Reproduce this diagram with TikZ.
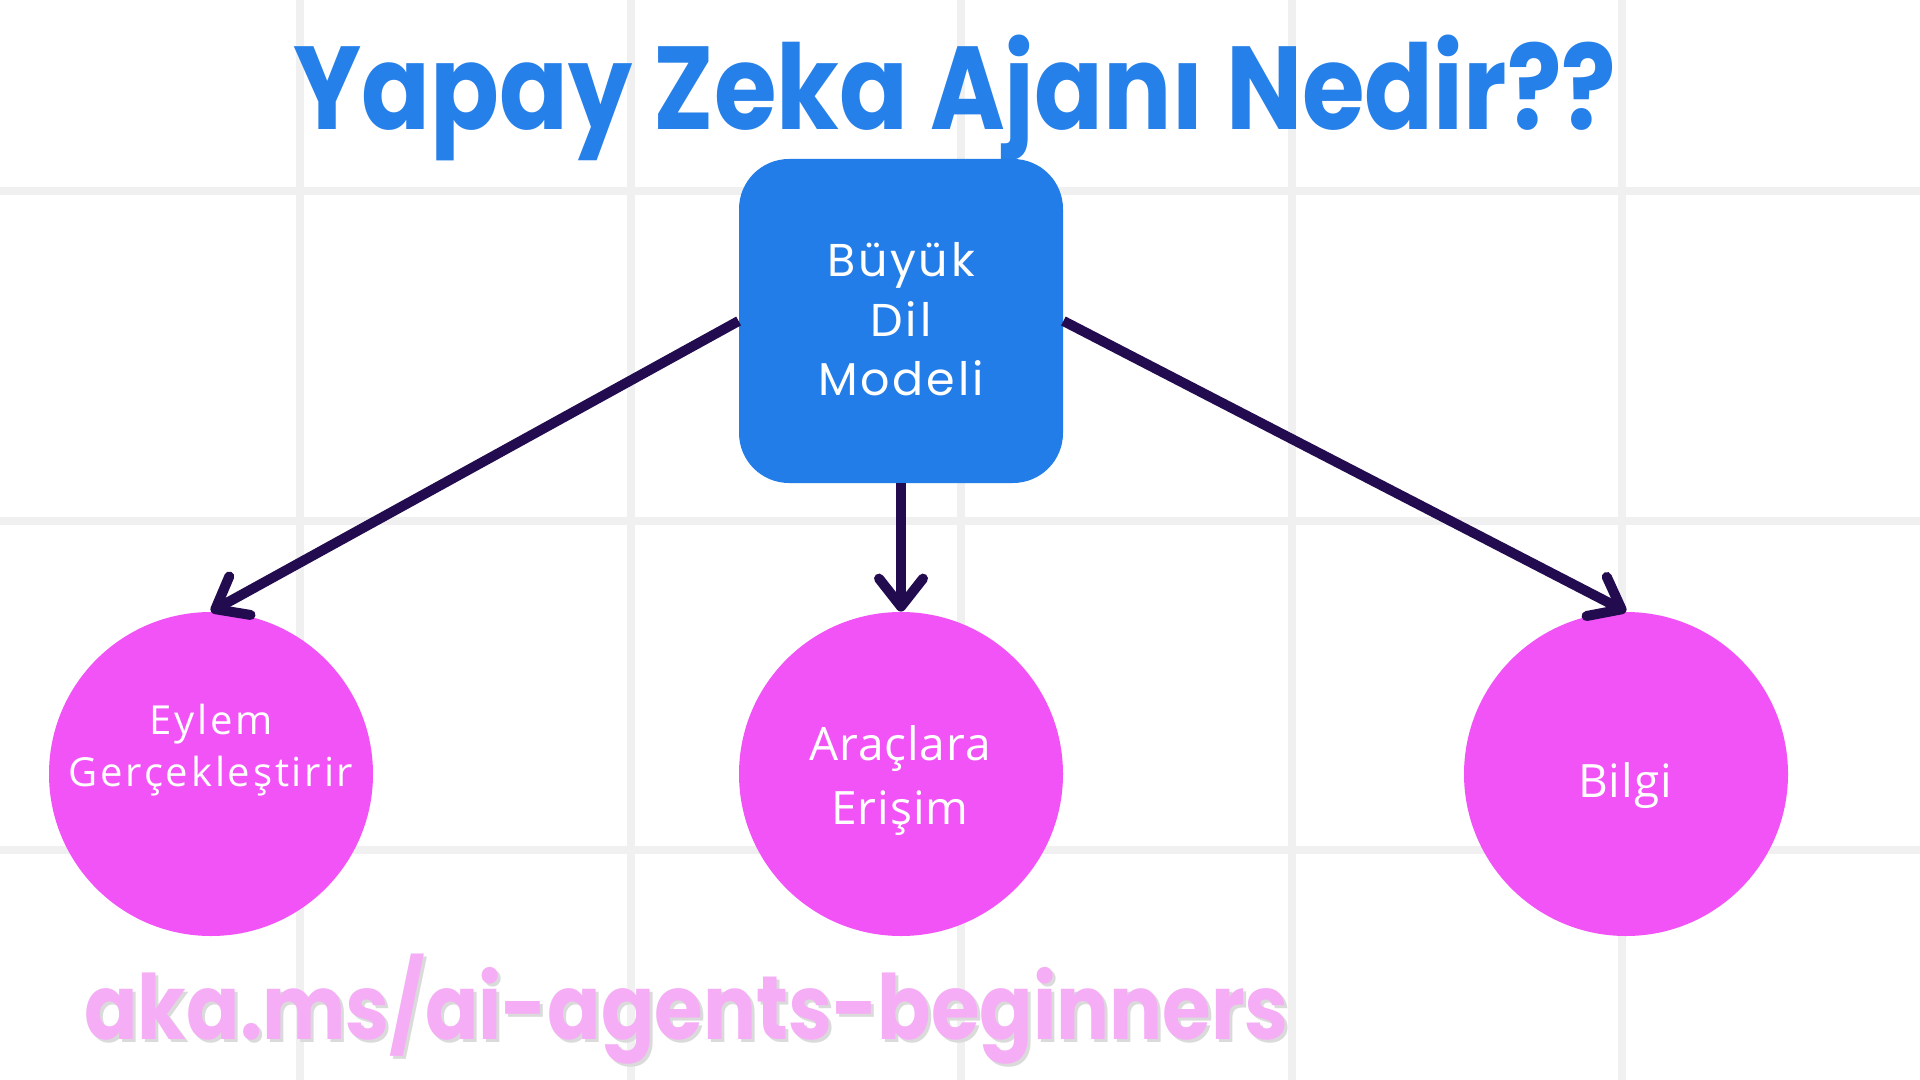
\documentclass[tikz,border=0pt]{standalone}
\usepackage{fontspec}
\setmainfont{Lato}
\newfontfamily\poptitle[FakeStretch=0.86]{Poppins}
\newfontfamily\popurl[FakeStretch=0.875]{Poppins}
\newfontfamily\popspaced[LetterSpace=6]{Poppins}
\newfontfamily\circfont[LetterSpace=2]{Open Sans}
\newfontfamily\circfontwide[LetterSpace=7]{Open Sans}
\usetikzlibrary{arrows.meta}
\definecolor{gridgray}{HTML}{F0F0F0}
\definecolor{boxblue}{HTML}{237DE8}
\definecolor{titleblue}{HTML}{2680E9}
\definecolor{circpink}{HTML}{F153F6}
\definecolor{arrowpurple}{HTML}{230B4F}
\definecolor{urlpink}{HTML}{F5AEF5}
\definecolor{urlshadow}{HTML}{DADADA}
\tikzset{
  gridline/.style={draw=gridgray, line width=4pt},
  llmbox/.style={fill=boxblue, rounded corners=25pt, minimum width=162pt, minimum height=162pt, inner sep=0pt},
  pinkcircle/.style={circle, fill=circpink, minimum size=162pt, inner sep=0pt},
  conn/.style={draw=arrowpurple, line width=5pt, -{Straight Barb[length=14pt,width=22pt,round]}},
  boxtext/.style={text=white, font=\popspaced\fontsize{23}{28}\selectfont, inner sep=0pt, anchor=base},
  circtext/.style={text=white, font=\circfont\fontsize{23}{28}\selectfont, inner sep=0pt, anchor=base},
  smallcirctext/.style={text=white, font=\circfontwide\fontsize{20}{24}\selectfont, inner sep=0pt, anchor=base},
  titletext/.style={text=titleblue, font=\poptitle\bfseries\fontsize{59}{70}\selectfont, inner sep=0pt, anchor=base},
  urltext/.style={font=\popurl\bfseries\fontsize{45}{54}\selectfont, inner sep=0pt, anchor=base west},
}
\begin{document}
\begin{tikzpicture}[x=0.5pt,y=-0.5pt]
\useasboundingbox (0,0) rectangle (1920,1080);
\fill[white] (0,0) rectangle (1920,1080);
\foreach \gx in {300,631,961,1292,1622} \draw[gridline] (\gx,0) -- (\gx,1080);
\foreach \gy in {191,521,850} \draw[gridline] (0,\gy) -- (1920,\gy);

\node[titletext] (title) at (955,130) {Yapay Zeka Ajanı Nedir??};

\node[llmbox] (llm) at (901,321) {};
\node[pinkcircle] (act) at (211,774) {};
\node[pinkcircle] (tools) at (901,774) {};
\node[pinkcircle] (know) at (1626,774) {};

\draw[conn] (llm.west) -- (act.north);
\draw[conn] (llm.south) -- (tools.north);
\draw[conn] (llm.east) -- (know.north);

\node[boxtext] (llmA) at (901,277) {Büyük};
\node[boxtext] (llmB) at (901,336) {Dil};
\node[boxtext] (llmC) at (901,395) {Modeli};

\node[smallcirctext] (actA) at (211,734) {Eylem};
\node[smallcirctext] (actB) at (211,786) {Gerçekleştirir};

\node[circtext] (toolsA) at (900,760) {Araçlara};
\node[circtext] (toolsB) at (900,824) {Erişim};

\node[circtext] (knowA) at (1625,797) {Bilgi};

\node[urltext, text=urlshadow] (urlsh) at (87,1042) {aka.ms/ai-agents-beginners};
\node[urltext, text=urlpink] (url) at (84,1039) {aka.ms/ai-agents-beginners};
\end{tikzpicture}
\end{document}
